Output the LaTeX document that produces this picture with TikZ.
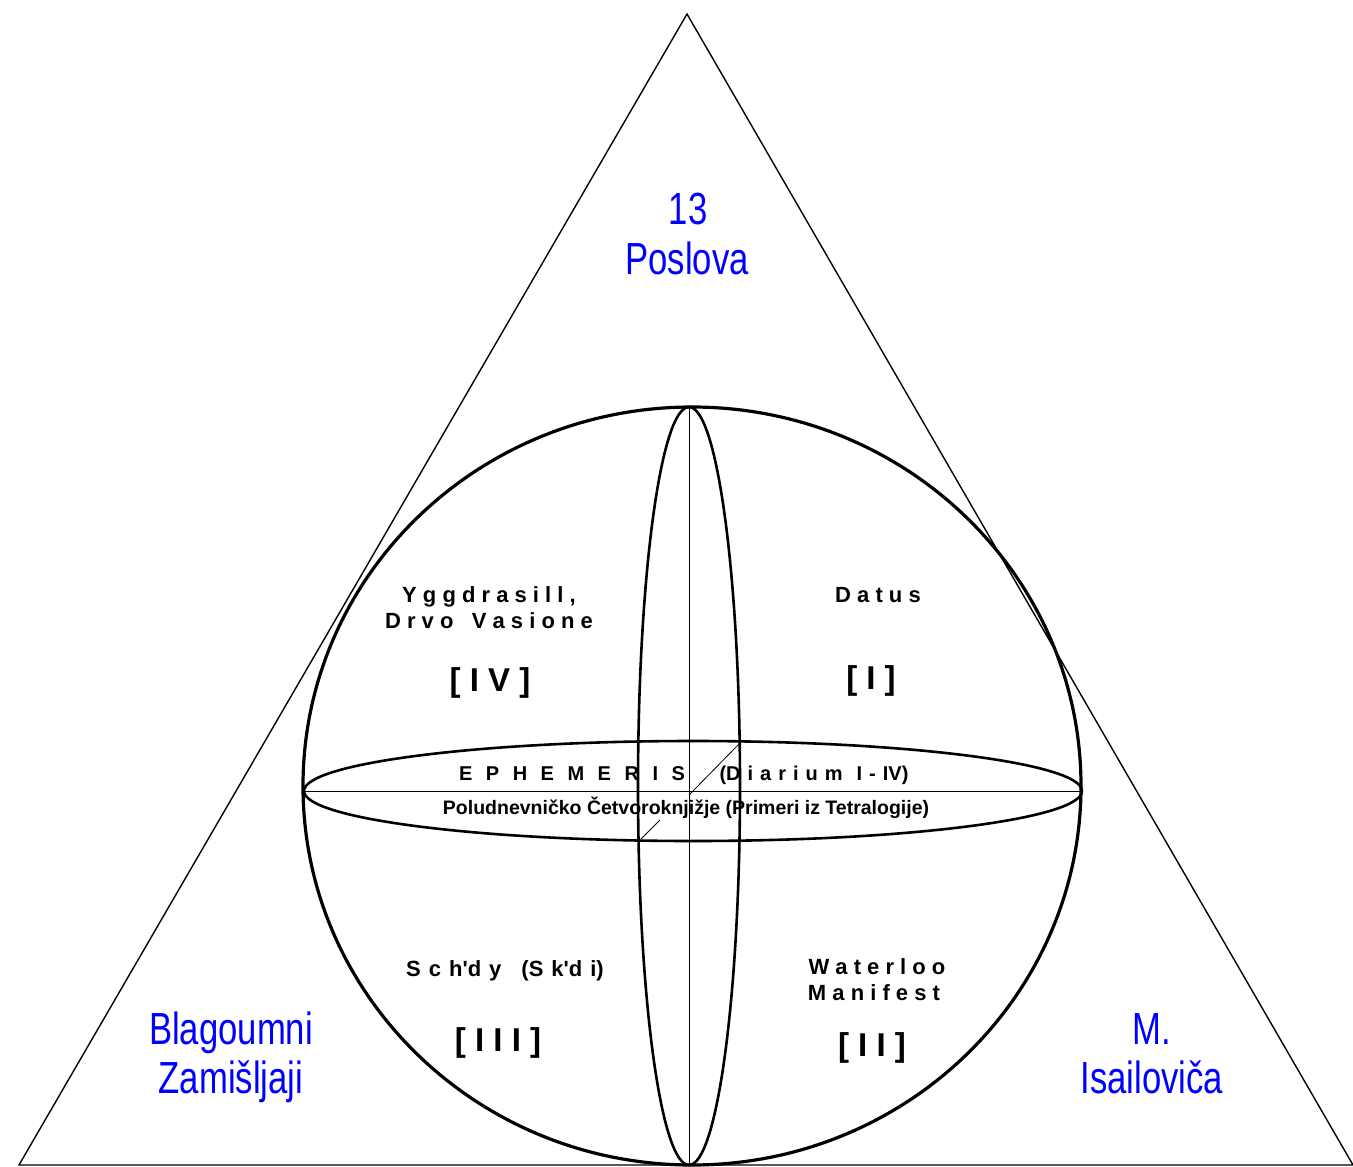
\documentclass[tikz,border=0pt]{standalone}
\usepackage{fontspec}
\setmainfont{Liberation Sans}
\newfontfamily\narrowsans[FakeStretch=0.77]{Liberation Sans}
\newcommand\gpa{\hspace{13.5pt}}
\newcommand\gpb{\hspace{7pt}}
\newcommand\gpc{\hspace{8pt}}
\begin{document}
\begin{tikzpicture}[x=1pt,y=-1pt,
  bluelbl/.style={text={rgb,255:red,0;green,0;blue,255}, font=\narrowsans\fontsize{45}{51}\selectfont, anchor=base, inner sep=0pt},
  quad/.style={font=\bfseries\fontsize{22}{26}\selectfont, anchor=base, inner sep=0pt},
  eqlbl/.style={font=\bfseries\fontsize{20}{24}\selectfont, anchor=base, inner sep=0pt},
  roman/.style={font=\bfseries\fontsize{33}{38}\selectfont, anchor=base, inner sep=0pt},
  thinline/.style={line width=1pt},
  thickline/.style={line width=2.6pt},
  triline/.style={line width=1.4pt}]
\useasboundingbox (0,0) rectangle (1353,1167);
\fill[white] (0,0) rectangle (1353,1167);
% triangle
\coordinate (apex) at (687,14);
\coordinate (bl) at (19,1165);
\coordinate (br) at (1353,1165);
\draw[triline, line join=miter] (bl) -- (apex) -- (br) -- cycle;
% sphere
\coordinate (c) at (692,786);
\draw[line width=3.2pt] (c) ellipse [x radius=389, y radius=379];
% meridian ellipse
\draw[thickline] (689,786) ellipse [x radius=51, y radius=379];
% equator ellipse
\draw[thickline] (693,791) ellipse [x radius=389, y radius=50];
% axes
\coordinate (ntop) at (689,407);
\coordinate (nbot) at (689,1165);
\coordinate (wl) at (304,791);
\coordinate (er) at (1082,791);
\draw[thinline] (ntop) -- (nbot);
\draw[thinline] (wl) -- (er);
% diagonal
\coordinate (d1) at (741,742);
\coordinate (d2) at (689,795);
\coordinate (d3) at (660,820);
\coordinate (d4) at (641,839);
\draw[line width=0.8pt] (d1) -- (d2);
\draw[line width=0.8pt] (d3) -- (d4);
% blue labels
\node[bluelbl] (t13) at (688,224) {13};
\node[bluelbl] (tposl) at (687,274) {Poslova};
\node[bluelbl] (tblag) at (231,1044) {Blagoumni};
\node[bluelbl] (tzam) at (231,1093) {Zamišljaji};
\node[bluelbl] (tm) at (1152,1044) {M.};
\node[bluelbl] (tisa) at (1152,1093) {Isailoviča};
% quadrant labels
\node[quad] (ygg) at (489,602) {Y g g d r a s i l l ,};
\node[quad] (drvo) at (489,628) {D r v o \ \ V a s i o n e};
\node[roman] (r4) at (490,691) {[ I V ]};
\node[quad] (datus) at (878,602) {D a t u s};
\node[roman] (r1) at (871,689) {[ I ]};
\node[quad] (schdy) at (505,976) {S\gpc c\gpc h\textquotesingle d\gpc y\hspace{20pt}(S\gpc k\textquotesingle d\gpc i)};
\node[roman] (r3) at (498,1051) {[ I I I ]};
\node[quad] (water) at (877,974) {W a t e r l o o};
\node[quad] (manif) at (874,1000) {M a n i f e s t};
\node[roman] (r2) at (872,1056) {[ I I ]};
% equator labels
\node[eqlbl] (eph) at (572,780) {E\gpa P\gpa H\gpa E\gpa M\gpa E\gpa R\gpa I\gpa S};
\node[eqlbl] (diar) at (814,780) {(D\gpb i\gpb a\gpb r\gpb i\gpb u\gpb m\gpb\gpb I\gpb -\gpb IV)};
\node[font=\bfseries\fontsize{19.5}{22}\selectfont, anchor=base, inner sep=0pt] (polud) at (686,814) {Poludnevničko Četvoroknjižje (Primeri iz Tetralogije)};
\end{tikzpicture}
\end{document}
